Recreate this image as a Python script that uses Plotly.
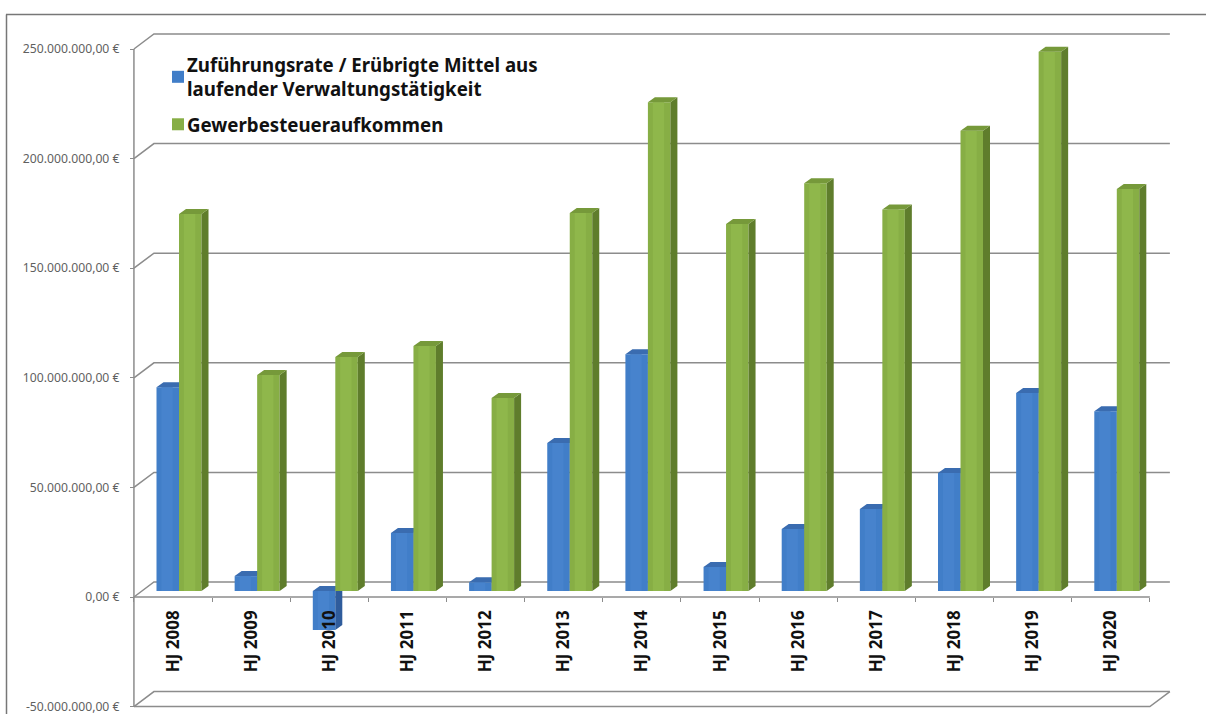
import plotly.graph_objects as go

# ---- data ----
categories = ["HJ 2008", "HJ 2009", "HJ 2010", "HJ 2011", "HJ 2012", "HJ 2013", "HJ 2014",
              "HJ 2015", "HJ 2016", "HJ 2017", "HJ 2018", "HJ 2019", "HJ 2020"]
zufuehrung = [93e6, 6.8e6, -17.8e6, 26.5e6, 4e6, 67.5e6, 108e6, 11e6, 28.3e6, 37.4e6, 53.8e6, 90.3e6, 82e6]
gewerbe = [172e6, 98.5e6, 106.8e6, 111.8e6, 88e6, 172.5e6, 223e6, 167.4e6, 186e6, 174e6, 210e6, 246e6, 183.4e6]
tick_vals = [-50e6, 0, 50e6, 100e6, 150e6, 200e6, 250e6]
tick_labels = ["-50.000.000,00 €", "0,00 €", "50.000.000,00 €", "100.000.000,00 €",
               "150.000.000,00 €", "200.000.000,00 €", "250.000.000,00 €"]
name_a = "Zuführungsrate / Erübrigte Mittel aus<br>laufender Verwaltungstätigkeit"
name_b = "Gewerbesteueraufkommen"

# ---- geometry (pixel scale of the drawing) ----
W, H = 1206, 714
PX_CAT = 78.15
X0_PX = 173.0
Y0_PX = 597.0
PX_VAL = 109.6 / 50e6
xr = [-X0_PX / PX_CAT, (W - X0_PX) / PX_CAT]
yr = [(Y0_PX - H) / PX_VAL, Y0_PX / PX_VAL]
dxp = lambda p: p / PX_CAT
dyp = lambda p: p / PX_VAL

BAR_W = dxp(22.5)
SHIFT_X, SHIFT_Y = dxp(6), dyp(6)     # bars stand inside the floor
DEP_X, DEP_Y = dxp(7), dyp(5)         # depth of each bar
WALL_X, WALL_Y = dxp(20), dyp(15)     # depth of the chart box
LEFT = -0.5
RIGHT = len(categories) - 0.5
GRID = "#8c8c8c"


def faces(values, offset):
    """Side and top polygons for the 3-D columns."""
    sx, sy, tx, ty = [], [], [], []
    for i, v in enumerate(values):
        l = i + SHIFT_X + offset
        r = l + BAR_W
        b = SHIFT_Y
        t = b + v
        hi = max(b, t)
        sx += [r, r + DEP_X, r + DEP_X, r, r, None]
        sy += [b, b + DEP_Y, t + DEP_Y, t, b, None]
        tx += [l, l + DEP_X, r + DEP_X, r, l, None]
        ty += [hi, hi + DEP_Y, hi + DEP_Y, hi, hi, None]
    return sx, sy, tx, ty


fig = go.Figure()

# box: back-wall gridlines, diagonals, front edges
gx, gy = [], []
for v in tick_vals:
    gx += [LEFT, LEFT + WALL_X, RIGHT + WALL_X, None]
    gy += [v, v + WALL_Y, v + WALL_Y, None]
gx += [LEFT, LEFT, None, LEFT, RIGHT, RIGHT + WALL_X, None, LEFT, RIGHT, None]
gy += [tick_vals[0], tick_vals[-1], None, tick_vals[0], tick_vals[0], tick_vals[0] + WALL_Y, None, 0, 0, None]
fig.add_trace(go.Scatter(x=gx, y=gy, mode="lines", line=dict(color=GRID, width=1.5),
                         hoverinfo="skip", showlegend=False, xaxis="x", yaxis="y"))


def add_series(values, name, offset, front, stripe, side, top, ax, ay, group):
    xs = [i + SHIFT_X for i in range(len(values))]
    base = [SHIFT_Y] * len(values)
    fig.add_trace(go.Bar(x=xs, y=values, base=base, offset=offset, width=BAR_W,
                         marker=dict(color=front, line=dict(width=0)), name=name,
                         legendgroup=group, xaxis=ax, yaxis=ay))
    # lighter band that stands in for the glossy gradient of the columns
    fig.add_trace(go.Bar(x=xs, y=values, base=base, offset=offset + BAR_W * 0.22, width=BAR_W * 0.5,
                         marker=dict(color=stripe, line=dict(width=0)), showlegend=False,
                         hoverinfo="skip", legendgroup=group, xaxis=ax, yaxis=ay))
    sx, sy, tx, ty = faces(values, offset)
    for px_, py_, col in ((sx, sy, side), (tx, ty, top)):
        fig.add_trace(go.Scatter(x=px_, y=py_, mode="lines", fill="toself", fillcolor=col,
                                 line=dict(width=0, color=col), hoverinfo="skip",
                                 showlegend=False, xaxis=ax, yaxis=ay))


add_series(zufuehrung, name_a, -BAR_W, "#417ec8", "#4783cd", "#2f5c9c", "#3a6cb0", "x2", "y2", "a")
add_series(gewerbe, name_b, 0, "#87ae45", "#8fb74b", "#5f7d2c", "#76993a", "x3", "y3", "b")

hidden = dict(range=xr, visible=False, fixedrange=True)
fig.update_layout(
    width=W, height=H, margin=dict(l=0, r=0, t=0, b=0),
    paper_bgcolor="white", plot_bgcolor="rgba(0,0,0,0)", barmode="overlay",
    showlegend=True,
    xaxis=dict(domain=[0, 1], **hidden),
    yaxis=dict(domain=[0, 1], range=yr, visible=False, fixedrange=True),
    xaxis2=dict(overlaying="x", anchor="y2", **hidden),
    yaxis2=dict(overlaying="y", anchor="x2", range=yr, visible=False, fixedrange=True),
    xaxis3=dict(overlaying="x", anchor="free", position=(H - Y0_PX) / H, range=xr, fixedrange=True,
                tickmode="array", tickvals=list(range(len(categories))), ticktext=categories,
                tickangle=-90, ticks="", showgrid=False, zeroline=False, showline=False,
                ticklabelstandoff=9,
                tickfont=dict(family="Noto Sans", size=17, color="#111111", weight="bold"),
                minor=dict(tickmode="array", tickvals=[i - 0.5 for i in range(len(categories) + 1)],
                           ticks="outside", ticklen=4, tickcolor=GRID, tickwidth=1, showgrid=False)),
    yaxis3=dict(overlaying="y", anchor="free", position=(X0_PX - 0.5 * PX_CAT) / W, range=yr,
                fixedrange=True, tickmode="array", tickvals=tick_vals, ticktext=tick_labels,
                ticks="outside", ticklen=4, tickcolor=GRID, showgrid=False, zeroline=False,
                showline=False, ticklabelstandoff=8, ticklabeloverflow="allow",
                tickfont=dict(family="Noto Sans", size=12.2, color="#5f5f5f")),
    legend=dict(x=147 / W, y=1 - 46 / H, xanchor="left", yanchor="top", bgcolor="rgba(0,0,0,0)",
                itemclick=False, itemdoubleclick=False, tracegroupgap=8, traceorder="grouped",
                font=dict(family="Noto Sans", size=18.7, color="#111111", weight="bold")),
    shapes=[
        dict(type="line", xref="paper", yref="paper", x0=6 / W, x1=1, y0=1 - 14.5 / H, y1=1 - 14.5 / H,
             line=dict(color="#777777", width=1.5), layer="below"),
        dict(type="line", xref="paper", yref="paper", x0=6.5 / W, x1=6.5 / W, y0=0, y1=1 - 14.5 / H,
             line=dict(color="#777777", width=1.5), layer="below"),
    ],
)
fig.write_html("out.html", config={"displayModeBar": False},
               post_script="document.body.style.margin='0';document.body.style.overflow='hidden';"
                           "document.querySelectorAll('.legend .legendpoints').forEach("
                           "function(g){g.setAttribute('transform','translate(11,0)');});")
